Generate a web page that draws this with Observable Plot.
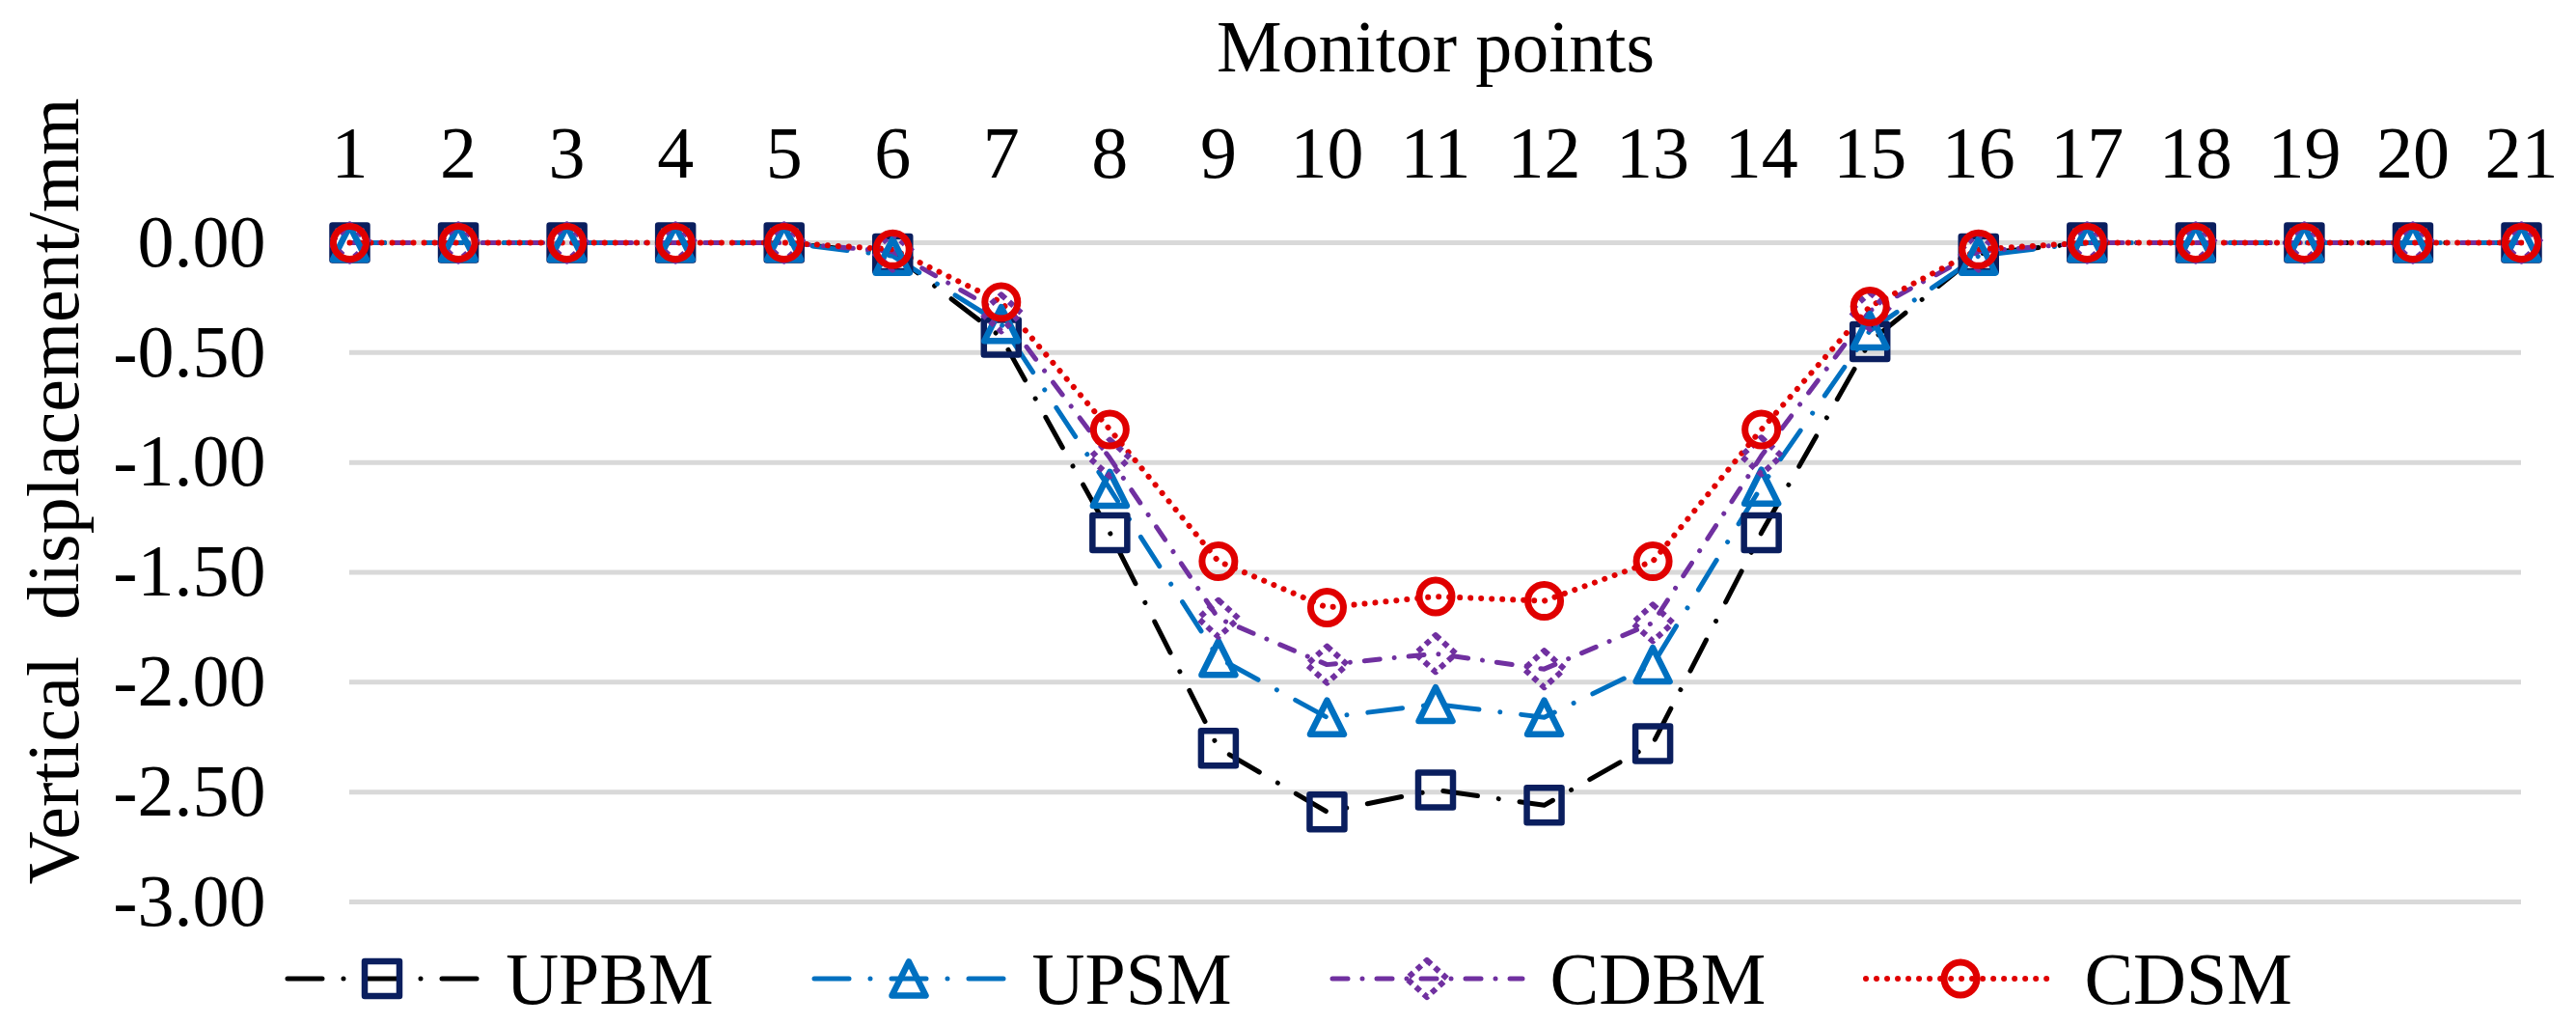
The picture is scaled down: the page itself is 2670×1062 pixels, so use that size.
<!DOCTYPE html>
<html>
<head>
<meta charset="utf-8">
<script src="https://cdn.jsdelivr.net/npm/d3@7"></script>
<script src="https://cdn.jsdelivr.net/npm/@observablehq/plot@0.6"></script>
<style>
  html, body { margin: 0; padding: 0; background: #ffffff; }
  #chart { width: 2670px; }
  .legend { width: 2670px; height: 97px; display: flex; justify-content: center; align-items: center; gap: 100px;
            font-family: "Liberation Serif", "Times New Roman", serif; font-size: 76px; color: #000; }
  .item { display: flex; align-items: center; }
  .item span { margin-left: 25px; line-height: 1; }
</style>
</head>
<body>
<div id="chart"></div>
<div class="legend" id="legend"></div>
<script>
// ---- data ----
const points = [1, 2, 3, 4, 5, 6, 7, 8, 9, 10, 11, 12, 13, 14, 15, 16, 17, 18, 19, 20, 21];
const yTicks = [0, -0.5, -1, -1.5, -2, -2.5, -3];
const seriesNames = ["UPBM", "UPSM", "CDBM", "CDSM"];
const upbm = [0, 0, 0, 0, 0, -0.05, -0.43, -1.32, -2.30, -2.59, -2.49, -2.56, -2.28, -1.32, -0.45, -0.05, 0, 0, 0, 0, 0];
const upsm = [0, 0, 0, 0, 0, -0.06, -0.37, -1.12, -1.89, -2.16, -2.10, -2.16, -1.92, -1.11, -0.40, -0.06, 0, 0, 0, 0, 0];
const cdbm = [0, 0, 0, 0, 0, -0.04, -0.32, -0.98, -1.71, -1.92, -1.87, -1.94, -1.73, -0.97, -0.31, -0.04, 0, 0, 0, 0, 0];
const cdsm = [0, 0, 0, 0, 0, -0.03, -0.27, -0.85, -1.45, -1.66, -1.61, -1.63, -1.45, -0.85, -0.29, -0.03, 0, 0, 0, 0, 0];
const xTitle = "Monitor points";
const yTitle = "Vertical\u00A0\u00A0displacement/mm";

// ---- marker shapes (Excel-like) ----
const half = size => Math.sqrt(size / Math.PI);
const shapes = {
  square: { draw(c, s) { const h = half(s); c.moveTo(-h, -h); c.lineTo(h, -h); c.lineTo(h, h); c.lineTo(-h, h); c.closePath(); } },
  triangle: { draw(c, s) { const h = half(s); c.moveTo(0, -h); c.lineTo(h, h); c.lineTo(-h, h); c.closePath(); } },
  diamond: { draw(c, s) { const h = half(s); c.moveTo(0, -h); c.lineTo(h * 1.1, 0); c.lineTo(0, h); c.lineTo(-h * 1.1, 0); c.closePath(); } },
  circle: { draw(c, s) { const h = half(s); c.moveTo(h, 0); c.arc(0, 0, h, 0, 2 * Math.PI); c.closePath(); } }
};

const styles = [
  { values: upbm, line: "#000000", marker: "#0A1E5E", dash: "36 22 0.01 22", width: 5, symbol: shapes.square, r: 18, mw: 6.5, mdash: null },
  { values: upsm, line: "#0070C0", marker: "#0070C0", dash: "36 22 0.01 22", width: 5, symbol: shapes.triangle, r: 17.5, mw: 6.5, mdash: null },
  { values: cdbm, line: "#7030A0", marker: "#7030A0", dash: "16 15 0.01 15", width: 5, symbol: shapes.diamond, r: 19, mw: 6, mdash: "6 5" },
  { values: cdsm, line: "#E00000", marker: "#E00000", dash: "0.01 11", width: 6, symbol: shapes.circle, r: 17, mw: 7, mdash: null }
];

const tables = styles.map((s, i) => points.map((p, j) => ({ pt: p, v: s.values[j], series: seriesNames[i] })));

const seriesMarks = [];
styles.forEach((s, i) => {
  seriesMarks.push(Plot.line(tables[i], { x: "pt", y: "v", stroke: s.line, strokeWidth: s.width, strokeDasharray: s.dash, strokeLinecap: "round", strokeLinejoin: "round" }));
});
styles.forEach((s, i) => {
  seriesMarks.push(Plot.dot(tables[i], { x: "pt", y: "v", symbol: s.symbol, r: s.r, stroke: s.marker, fill: "none", strokeWidth: s.mw, strokeDasharray: s.mdash, strokeLinejoin: "round" }));
});

const chart = Plot.plot({
  width: 2670,
  height: 965,
  marginTop: 251,
  marginBottom: 31,
  marginLeft: 362,
  marginRight: 57,
  style: { fontFamily: "'Liberation Serif', 'Times New Roman', serif", fontSize: "76px", color: "#000", background: "#fff" },
  x: { type: "linear", domain: [1, 21] },
  y: { domain: [-3, 0] },
  marks: [
    Plot.ruleY(yTicks, { stroke: "#D9D9D9", strokeWidth: 5 }),
    Plot.axisY({ ticks: yTicks, tickSize: 0, tickPadding: 87, tickFormat: d => d.toFixed(2), label: null }),
    Plot.axisX({ anchor: "top", ticks: points, tickSize: 0, tickPadding: 68, tickFormat: d => String(d), label: null }),
    Plot.text([xTitle], { text: d => d, frameAnchor: "top", dy: -178, lineAnchor: "bottom", fontSize: 76 }),
    Plot.text([yTitle], { text: d => d, frameAnchor: "left", textAnchor: "middle", dx: -282, dy: -84, rotate: -90, lineAnchor: "bottom", fontSize: 76 }),
    ...seriesMarks
  ]
});
document.getElementById("chart").appendChild(chart);

// ---- legend ----
const legend = d3.select("#legend");
styles.forEach((s, i) => {
  const item = legend.append("div").attr("class", "item");
  const svg = item.append("svg").attr("width", 205).attr("height", 60);
  svg.append("line").attr("x1", 4).attr("x2", 201).attr("y1", 30).attr("y2", 30)
    .attr("stroke", s.line).attr("stroke-width", s.width).attr("stroke-dasharray", s.dash).attr("stroke-linecap", "round");
  svg.append("path").attr("transform", "translate(102,30)")
    .attr("d", d3.symbol(s.symbol, Math.PI * s.r * s.r)())
    .attr("fill", "none").attr("stroke", s.marker).attr("stroke-width", s.mw)
    .attr("stroke-dasharray", s.mdash).attr("stroke-linejoin", "round");
  item.append("span").text(seriesNames[i]);
});
</script>
</body>
</html>
